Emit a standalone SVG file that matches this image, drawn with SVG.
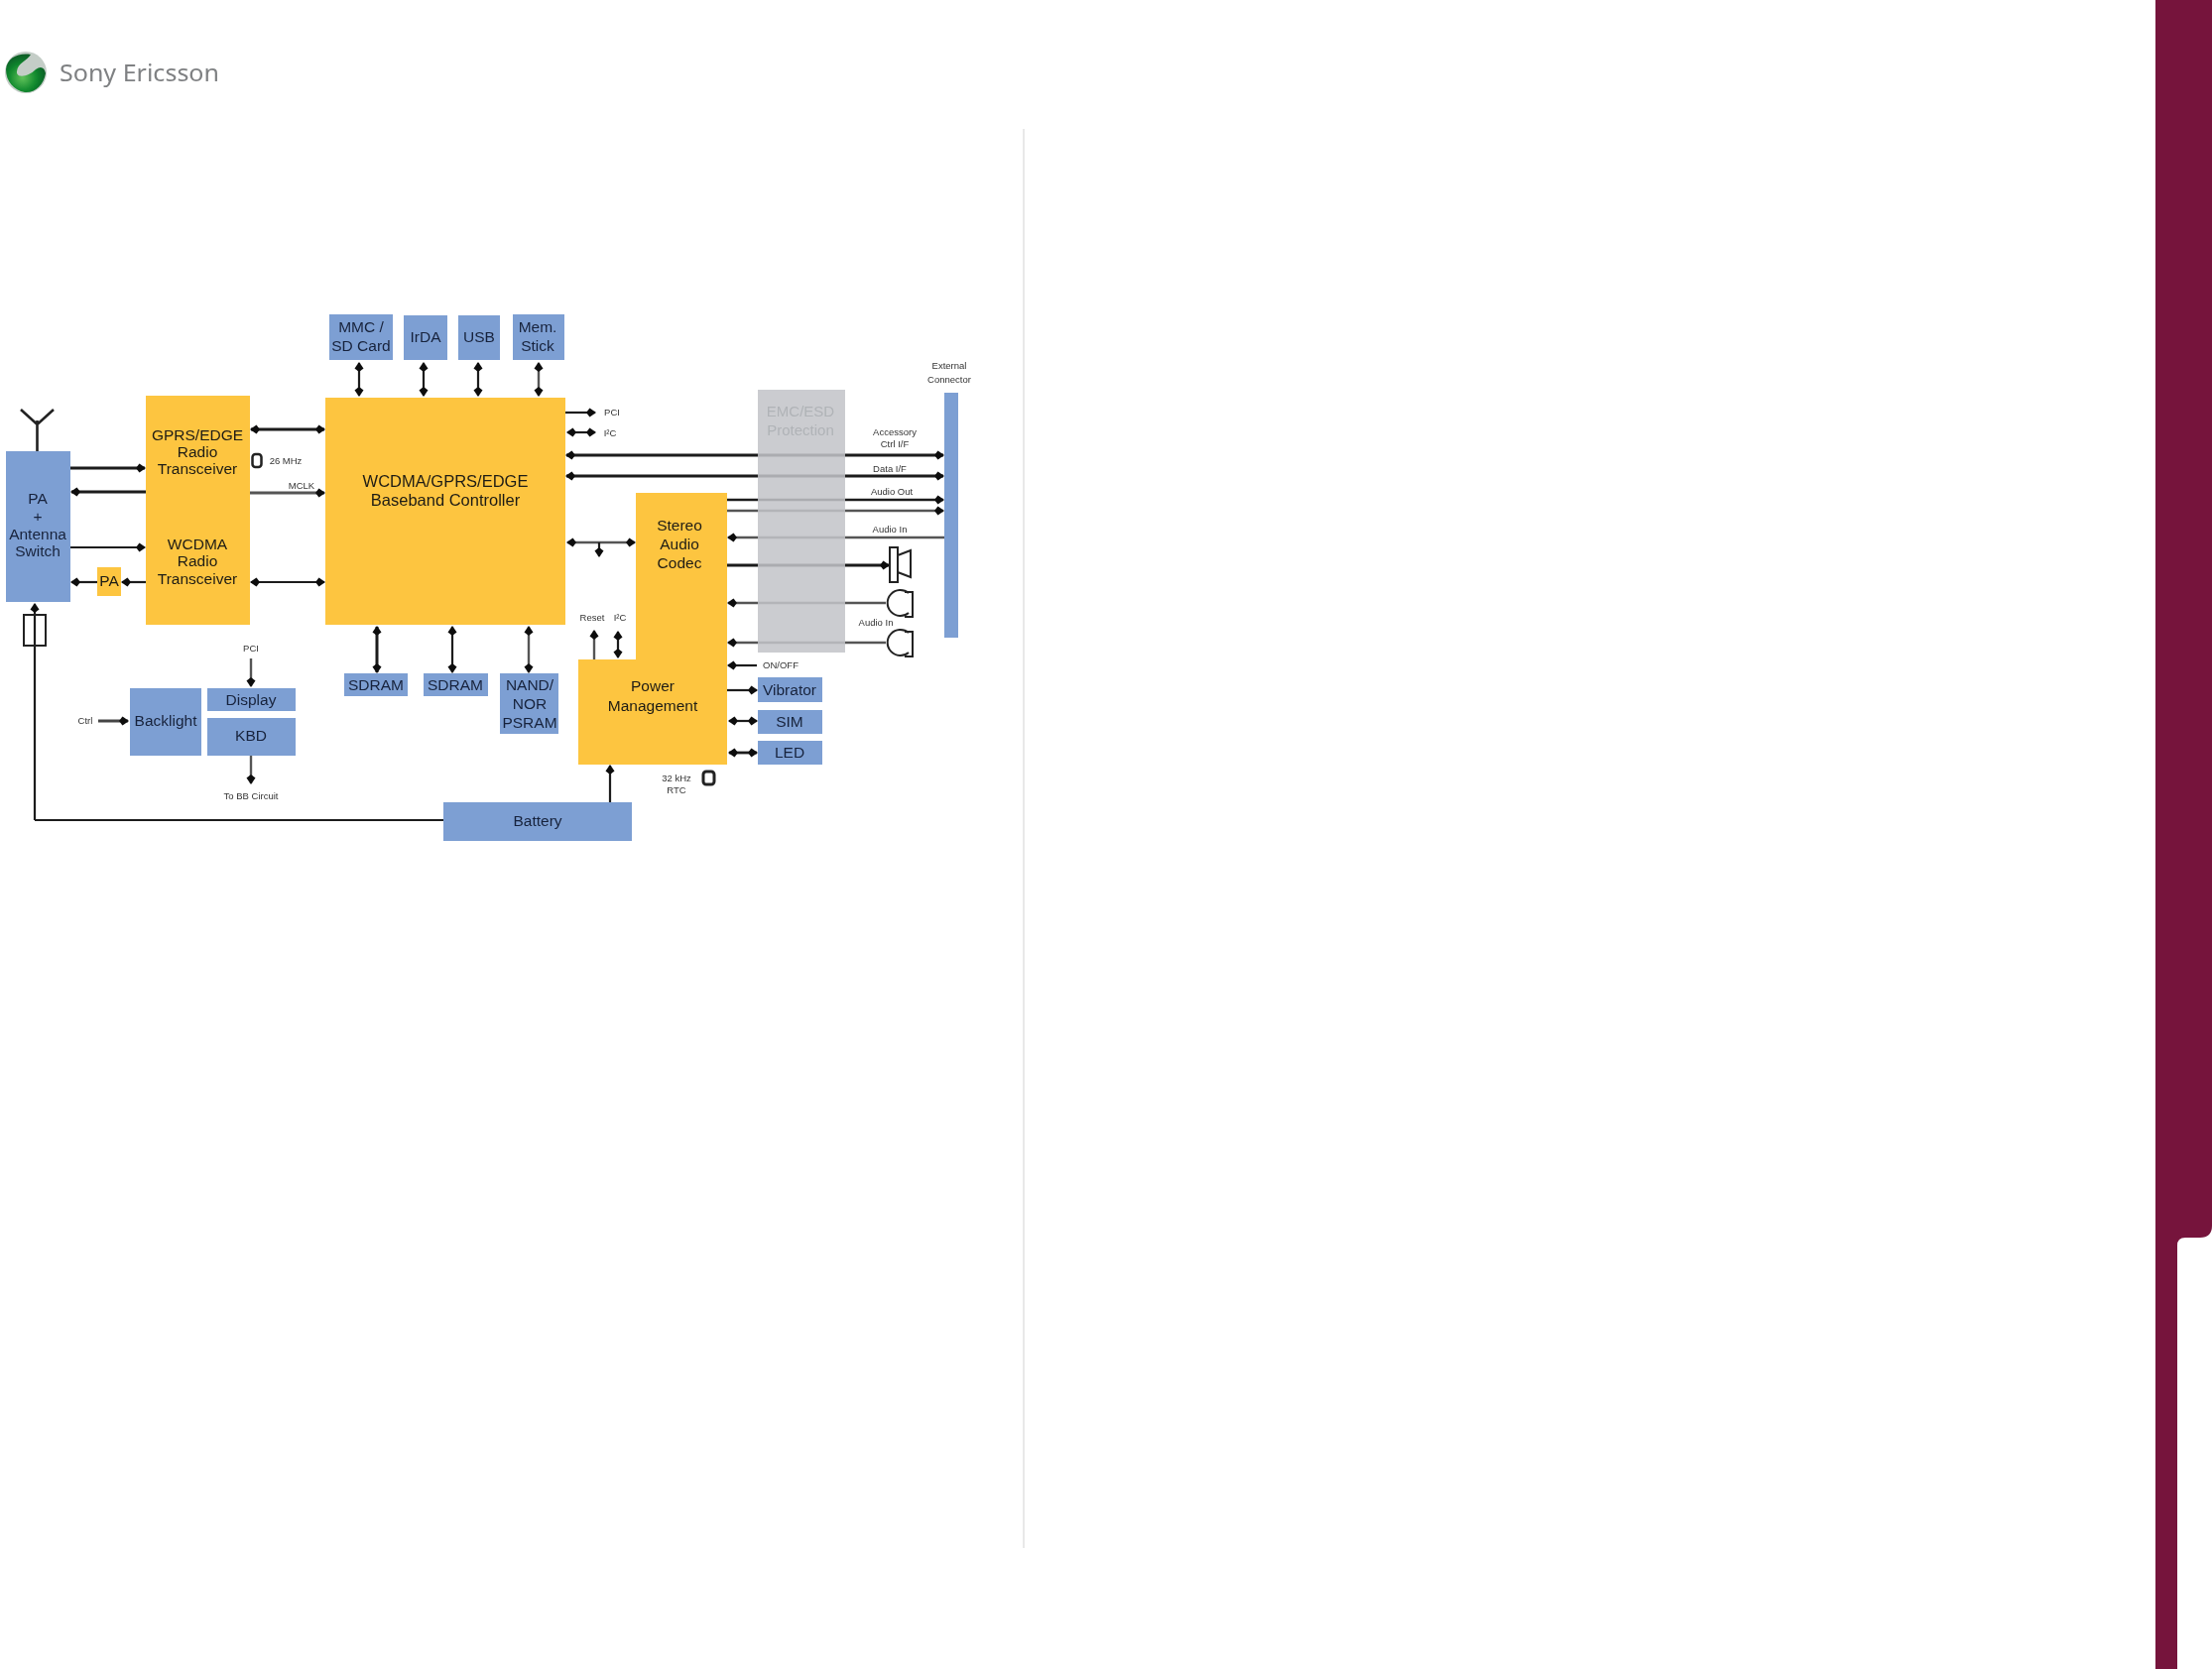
<svg xmlns="http://www.w3.org/2000/svg" width="2230" height="1683" viewBox="0 0 2230 1683">
<style>
text{font-family:"Liberation Sans",Arial,sans-serif;text-anchor:middle;fill:#1f1c14}
.t{font-size:15.500px}
.bb{font-size:16.500px}
.b{font-size:15.500px;fill:#18233c}
.s{font-size:9.500px;fill:#333}
.y{fill:#fdc540}
.u{fill:#7d9fd3}
.c line,.c path{stroke:#1c1c1c;stroke-width:2.2;fill:none}
.c .e{marker-end:url(#h)}
.c .d{marker-start:url(#h);marker-end:url(#h)}
.c .g{stroke:#555;stroke-width:2.4}
.o{stroke:#222;stroke-width:2;fill:none}
</style>
<defs>
<marker id="h" markerUnits="userSpaceOnUse" markerWidth="14" markerHeight="14" refX="10" refY="7" orient="auto-start-reverse"><path d="M1,7 L4.500,2.500 L11,7 L4.500,11.500Z" fill="#111"/></marker>
<radialGradient id="ball" cx="0.42" cy="0.62" r="0.62"><stop offset="0" stop-color="#5fc25a"/><stop offset="0.55" stop-color="#128a2e"/><stop offset="1" stop-color="#0c5a26"/></radialGradient>
<filter id="soft" x="-2%" y="-2%" width="104%" height="104%"><feGaussianBlur stdDeviation="0.6"/></filter>
</defs>
<rect width="2230" height="1683" fill="#fff"/>
<g id="sidebar"><path d="M2173,0H2230V1236Q2230,1248 2218,1248H2203Q2195,1248 2195,1256V1683H2173Z" fill="#76143c"/></g>
<line id="divider" x1="1032" y1="130" x2="1032" y2="1561" stroke="#d2d2d2" stroke-width="1"/>
<g id="logo" filter="url(#soft)">
<circle cx="26" cy="73" r="21" fill="#c4cdc7"/>
<path d="M6,70C7,58 19,53 31,55C27,62 18,63 17,72C16,79 28,78 36,70C41,66 45,68 46,74C44,86 35,94 25,93C14,91 6,82 6,70Z" fill="url(#ball)"/>
<text x="60" y="82" style="font-family:'Noto Sans',sans-serif;text-anchor:start;fill:#7f8183;font-size:24px" textLength="161" lengthAdjust="spacingAndGlyphs">Sony Ericsson</text>
</g>
<g id="diagram" filter="url(#soft)">
<g id="connectors" class="c">
<line class="d" x1="362" y1="366" x2="362" y2="399"/>
<line class="d" x1="427" y1="366" x2="427" y2="399"/>
<line class="d" x1="482" y1="366" x2="482" y2="399"/>
<line class="d g" x1="543" y1="366" x2="543" y2="399"/>
<line class="d" x1="253" y1="433" x2="327" y2="433" style="stroke-width:3"/>
<line class="e" x1="71" y1="472" x2="146" y2="472" style="stroke-width:3"/>
<line class="e" x1="147" y1="496" x2="72" y2="496" style="stroke-width:3"/>
<line class="e g" x1="252" y1="497" x2="327" y2="497" style="stroke-width:3"/>
<line class="e" x1="71" y1="552" x2="146" y2="552"/>
<line class="e" x1="147" y1="587" x2="123" y2="587"/>
<line class="e" x1="98" y1="587" x2="72" y2="587"/>
<line class="d" x1="253" y1="587" x2="327" y2="587"/>
<path d="M35,827V609" class="e"/>
<path d="M35,827H447"/>
<line class="e g" x1="253" y1="664" x2="253" y2="692"/>
<line class="e" x1="99" y1="727" x2="129" y2="727" style="stroke-width:3;stroke:#444"/>
<line class="e g" x1="253" y1="762" x2="253" y2="790"/>
<line class="d" x1="380" y1="632" x2="380" y2="678" style="stroke-width:3"/>
<line class="d" x1="456" y1="632" x2="456" y2="678"/>
<line class="d g" x1="533" y1="632" x2="533" y2="678"/>
<line class="e" x1="570" y1="416" x2="600" y2="416"/>
<line class="d" x1="572" y1="436" x2="600" y2="436"/>
<line class="d" x1="571" y1="459" x2="951" y2="459" style="stroke-width:2.800"/>
<line class="d" x1="571" y1="480" x2="951" y2="480" style="stroke-width:2.800"/>
<line class="e" x1="733" y1="504" x2="951" y2="504" style="stroke-width:2.600"/>
<line class="e g" x1="733" y1="515" x2="951" y2="515"/>
<line class="e g" x1="952" y1="542" x2="734" y2="542"/>
<line class="e" x1="733" y1="570" x2="896" y2="570" style="stroke-width:2.800"/>
<line class="e g" x1="893" y1="608" x2="734" y2="608"/>
<line class="e g" x1="893" y1="648" x2="734" y2="648"/>
<line class="e" x1="763" y1="671" x2="734" y2="671"/>
<line class="e" x1="733" y1="696" x2="763" y2="696"/>
<line class="d" x1="735" y1="727" x2="763" y2="727"/>
<line class="d" x1="735" y1="759" x2="763" y2="759" style="stroke-width:2.800"/>
<line class="e" x1="615" y1="809" x2="615" y2="772"/>
<line class="d g" x1="572" y1="547" x2="640" y2="547"/>
<line class="e" x1="604" y1="547" x2="604" y2="561"/>
<line class="e g" x1="599" y1="665" x2="599" y2="636"/>
<line class="d" x1="623" y1="637" x2="623" y2="663"/>
</g>
<g id="antenna"><path class="o" d="M37.500,455V424M21,413L37.500,428L54,413" style="stroke-width:2.600"/></g>
<g id="pa-switch"><rect class="u" x="6" y="455" width="65" height="152"/><text class="b" x="38" y="508">PA</text><text class="b" x="38" y="526">+</text><text class="b" x="38" y="544">Antenna</text><text class="b" x="38" y="561">Switch</text></g>
<g id="transceiver"><rect class="y" x="147" y="399" width="105" height="231"/><text class="t" x="199" y="444">GPRS/EDGE</text><text class="t" x="199" y="461">Radio</text><text class="t" x="199" y="478">Transceiver</text><text class="t" x="199" y="554">WCDMA</text><text class="t" x="199" y="571">Radio</text><text class="t" x="199" y="589">Transceiver</text></g>
<g id="baseband"><rect class="y" x="328" y="401" width="242" height="229"/><text class="bb" x="449" y="491">WCDMA/GPRS/EDGE</text><text class="bb" x="449" y="510">Baseband Controller</text></g>
<g id="mmc"><rect class="u" x="332" y="317" width="64" height="46"/><text class="b" x="364" y="335">MMC /</text><text class="b" x="364" y="354">SD Card</text></g>
<g id="irda"><rect class="u" x="407" y="318" width="44" height="45"/><text class="b" x="429" y="345">IrDA</text></g>
<g id="usb"><rect class="u" x="462" y="318" width="42" height="45"/><text class="b" x="483" y="345">USB</text></g>
<g id="memstick"><rect class="u" x="517" y="317" width="52" height="46"/><text class="b" x="542" y="335">Mem.</text><text class="b" x="542" y="354">Stick</text></g>
<g id="pa"><rect class="y" x="98" y="572" width="24" height="29"/><text class="t" x="110" y="591">PA</text></g>
<g id="filter"><rect class="o" x="24" y="620" width="22" height="31"/></g>
<g id="xtal26"><rect class="o" x="254.500" y="458" width="9" height="13" rx="3" style="stroke-width:2.500"/><text class="s" x="288" y="468">26 MHz</text></g>
<text class="s" x="304" y="493">MCLK</text>
<g id="backlight"><rect class="u" x="131" y="694" width="72" height="68"/><text class="b" x="167" y="732">Backlight</text></g>
<g id="display"><rect class="u" x="209" y="694" width="89" height="23"/><text class="b" x="253" y="711">Display</text></g>
<g id="kbd"><rect class="u" x="209" y="724" width="89" height="38"/><text class="b" x="253" y="747">KBD</text></g>
<text class="s" x="253" y="657">PCI</text>
<text class="s" x="86" y="730">Ctrl</text>
<text class="s" x="253" y="806">To BB Circuit</text>
<g id="sdram1"><rect class="u" x="347" y="679" width="64" height="23"/><text class="b" x="379" y="696">SDRAM</text></g>
<g id="sdram2"><rect class="u" x="427" y="679" width="65" height="23"/><text class="b" x="459" y="696">SDRAM</text></g>
<g id="nand"><rect class="u" x="504" y="679" width="59" height="61"/><text class="b" x="534" y="696">NAND/</text><text class="b" x="534" y="715">NOR</text><text class="b" x="534" y="734">PSRAM</text></g>
<g id="battery"><rect class="u" x="447" y="809" width="190" height="39"/><text class="b" x="542" y="833">Battery</text></g>
<g id="codec-power"><path class="y" d="M641,497H733V771H583V665H641Z"/><text class="t" x="685" y="535">Stereo</text><text class="t" x="685" y="554">Audio</text><text class="t" x="685" y="573">Codec</text><text class="t" x="658" y="697">Power</text><text class="t" x="658" y="717">Management</text></g>
<g id="emc"><rect x="764" y="393" width="88" height="265" fill="#c2c4c8" fill-opacity="0.86"/><text x="807" y="420" style="font-size:15px;fill:#b0b3b7">EMC/ESD</text><text x="807" y="439" style="font-size:15px;fill:#b0b3b7">Protection</text></g>
<g id="connector"><rect class="u" x="952" y="396" width="14" height="247"/><text class="s" x="957" y="372">External</text><text class="s" x="957" y="386">Connector</text></g>
<g id="speaker"><path class="o" d="M897,552H905V587H897ZM905,560L918,555V582L905,577"/></g>
<g id="mic1"><path class="o" d="M916,598A13,13 0 1 0 916,618M912,597H920V622H912"/></g>
<g id="mic2"><path class="o" d="M916,638A13,13 0 1 0 916,658M912,637H920V662H912"/></g>
<g id="vibrator"><rect class="u" x="764" y="683" width="65" height="25"/><text class="b" x="796" y="701">Vibrator</text></g>
<g id="sim"><rect class="u" x="764" y="716" width="65" height="24"/><text class="b" x="796" y="733">SIM</text></g>
<g id="led"><rect class="u" x="764" y="747" width="65" height="24"/><text class="b" x="796" y="764">LED</text></g>
<g id="xtal32"><rect class="o" x="709" y="778" width="11" height="13" rx="3" style="stroke-width:3"/></g>
<g id="labels">
<text class="s" x="617" y="419">PCI</text><text class="s" x="615" y="440">I²C</text>
<text class="s" x="902" y="439">Accessory</text><text class="s" x="902" y="451">Ctrl I/F</text>
<text class="s" x="897" y="476">Data I/F</text><text class="s" x="899" y="499">Audio Out</text><text class="s" x="897" y="537">Audio In</text><text class="s" x="883" y="631">Audio In</text>
<text class="s" x="597" y="626">Reset</text><text class="s" x="625" y="626">I²C</text>
<text class="s" x="787" y="674">ON/OFF</text>
<text class="s" x="682" y="788">32 kHz</text><text class="s" x="682" y="800">RTC</text>
</g>
</g>
</svg>
